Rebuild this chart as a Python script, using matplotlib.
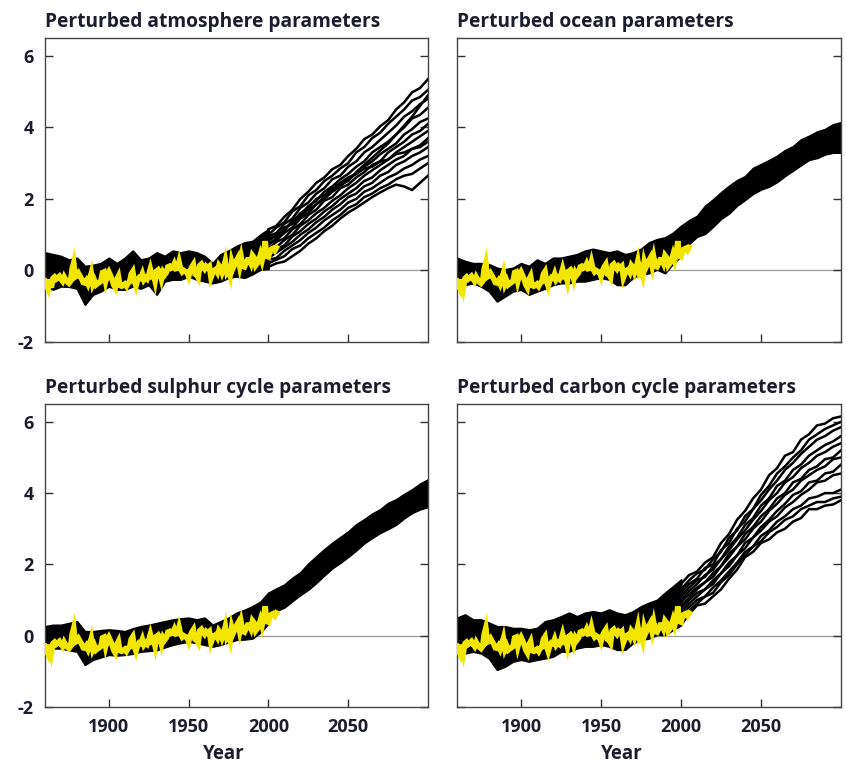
import matplotlib
matplotlib.use("Agg")
import matplotlib.pyplot as plt
import numpy as np

plt.rcParams['font.family'] = ['Open Sans', 'DejaVu Sans']
plt.rcParams['font.weight'] = 'bold'
plt.rcParams['axes.unicode_minus'] = False

# ---- data -------------------------------------------------------------
titles = ["Perturbed atmosphere parameters", "Perturbed ocean parameters",
          "Perturbed sulphur cycle parameters", "Perturbed carbon cycle parameters"]
xticks = [1900, 1950, 2000, 2050]
yticks = [-2, 0, 2, 4, 6]

hist_years = np.arange(1860, 2001, 5)      # 1860..2000
fut_years = np.arange(2000, 2101, 5)       # 2000..2100
obs_years = np.arange(1860, 2006)          # observed record

# observed temperature anomaly (yellow)
obs = [-0.30, -0.42, -0.52, -0.25, -0.48, -0.22, -0.18, -0.24, -0.20, -0.16,
       -0.24, -0.30, -0.18, -0.26, -0.32, -0.36, -0.30, 0.05, 0.22, -0.18,
       -0.15, -0.08, -0.16, -0.24, -0.34, -0.35, -0.28, -0.38, -0.25, -0.08,
       -0.38, -0.28, -0.40, -0.36, -0.34, -0.30, -0.06, -0.04, -0.30, -0.12,
       -0.04, -0.14, -0.25, -0.40, -0.48, -0.25, -0.16, -0.42, -0.44, -0.42,
       -0.38, -0.44, -0.35, -0.32, -0.10, -0.03, -0.30, -0.44, -0.28, -0.20,
       -0.22, -0.10, -0.26, -0.20, -0.24, -0.12, 0.04, -0.14, -0.10, -0.30,
       -0.02, 0.02, -0.05, -0.24, -0.05, -0.12, -0.06, 0.10, 0.12, 0.06,
       0.08, 0.18, 0.05, 0.06, 0.24, 0.04, -0.04, 0.00, -0.03, -0.05,
       -0.17, 0.00, 0.10, 0.17, -0.10, -0.12, -0.20, 0.14, 0.18, 0.10,
       0.04, 0.12, 0.08, 0.12, -0.20, -0.08, 0.00, 0.03, -0.05, 0.14,
       0.08, -0.06, 0.06, 0.26, -0.05, 0.02, -0.14, 0.24, 0.08, 0.18,
       0.28, 0.36, 0.12, 0.36, 0.12, 0.10, 0.20, 0.30, 0.30, 0.20,
       0.42, 0.36, 0.14, 0.20, 0.28, 0.44, 0.28, 0.48, 0.82, 0.40,
       0.38, 0.54, 0.60, 0.62, 0.56, 0.64]

# historical ensemble spread (upper / lower edge) for each panel, 1860..2000
atm_hist_hi = [0.50, 0.45, 0.40, 0.30, 0.35, 0.12, 0.15, 0.20, 0.35, 0.20, 0.35, 0.55, 0.30, 0.35, 0.50,
               0.40, 0.55, 0.50, 0.55, 0.50, 0.40, 0.20, 0.45, 0.55, 0.68, 0.78, 0.82, 1.00, 1.15]
atm_hist_lo = [-0.44, -0.53, -0.44, -0.45, -0.50, -0.95, -0.67, -0.58, -0.44, -0.53, -0.53, -0.44, -0.50, -0.40, -0.67,
               -0.30, -0.25, -0.25, -0.16, -0.25, -0.30, -0.35, -0.30, -0.20, -0.16, -0.20, -0.10, 0.03, 0.05]
ocn_hist_hi = [0.35, 0.26, 0.20, 0.20, 0.17, 0.07, 0.03, 0.07, 0.20, 0.12, 0.30, 0.20, 0.35, 0.35, 0.40,
               0.45, 0.55, 0.60, 0.55, 0.50, 0.55, 0.45, 0.50, 0.60, 0.78, 0.87, 0.92, 1.05, 1.24]
ocn_hist_lo = [-0.44, -0.40, -0.35, -0.44, -0.58, -0.86, -0.72, -0.58, -0.53, -0.67, -0.58, -0.50, -0.40, -0.35, -0.35,
               -0.30, -0.30, -0.25, -0.20, -0.25, -0.40, -0.40, -0.20, -0.10, -0.07, 0.03, -0.07, 0.20, 0.40]
sul_hist_hi = [0.26, 0.30, 0.30, 0.35, 0.40, 0.12, 0.12, 0.15, 0.17, 0.15, 0.12, 0.20, 0.26, 0.30, 0.35,
               0.40, 0.45, 0.48, 0.50, 0.45, 0.50, 0.30, 0.40, 0.50, 0.64, 0.72, 0.82, 0.95, 1.20]
sul_hist_lo = [-0.35, -0.35, -0.35, -0.40, -0.44, -0.81, -0.67, -0.60, -0.53, -0.55, -0.53, -0.50, -0.44, -0.42, -0.40,
               -0.32, -0.25, -0.20, -0.16, -0.20, -0.25, -0.30, -0.25, -0.18, -0.11, -0.10, -0.07, 0.10, 0.35]
crb_hist_hi = [0.50, 0.59, 0.45, 0.45, 0.36, 0.26, 0.26, 0.21, 0.21, 0.17, 0.21, 0.40, 0.45, 0.54, 0.64,
               0.54, 0.64, 0.68, 0.64, 0.73, 0.64, 0.59, 0.68, 0.82, 0.92, 1.00, 1.20, 1.38, 1.57]
crb_hist_lo = [-0.44, -0.49, -0.44, -0.49, -0.63, -0.95, -0.86, -0.72, -0.67, -0.72, -0.67, -0.63, -0.58, -0.44, -0.44,
               -0.35, -0.30, -0.30, -0.25, -0.30, -0.39, -0.39, -0.20, -0.11, -0.07, 0.03, 0.03, 0.17, 0.30]

# future spread for the narrow ensembles, 2000..2100
ocn_fut_hi = [1.24, 1.40, 1.52, 1.80, 1.98, 2.18, 2.36, 2.52, 2.63, 2.86, 2.97,
              3.08, 3.20, 3.36, 3.47, 3.66, 3.76, 3.88, 3.95, 4.08, 4.14]
ocn_fut_lo = [0.59, 0.75, 0.95, 1.03, 1.23, 1.45, 1.60, 1.82, 1.98, 2.15, 2.27,
              2.35, 2.48, 2.65, 2.80, 2.95, 3.10, 3.15, 3.25, 3.30, 3.30]
sul_fut_hi = [1.20, 1.32, 1.43, 1.62, 1.77, 2.02, 2.22, 2.42, 2.60, 2.76, 2.92,
              3.12, 3.26, 3.42, 3.54, 3.72, 3.82, 3.97, 4.10, 4.26, 4.38]
sul_fut_lo = [0.62, 0.70, 0.80, 0.98, 1.15, 1.30, 1.49, 1.70, 1.90, 2.05, 2.22,
              2.40, 2.60, 2.75, 2.89, 3.00, 3.12, 3.30, 3.45, 3.55, 3.62]

# individual runs for the wide ensembles, 2000..2100
atm_runs = [
    [1.15, 1.25, 1.50, 1.70, 2.00, 2.20, 2.45, 2.60, 2.83, 2.95, 3.20, 3.40, 3.67, 3.80, 4.03, 4.20, 4.50, 4.70, 4.98, 5.10, 5.35],
    [1.00, 1.20, 1.35, 1.65, 1.80, 2.10, 2.25, 2.50, 2.65, 2.85, 3.00, 3.30, 3.45, 3.70, 3.85, 4.10, 4.30, 4.50, 4.75, 4.85, 5.05],
    [0.95, 1.05, 1.30, 1.45, 1.75, 1.90, 2.15, 2.30, 2.55, 2.65, 2.90, 3.05, 3.30, 3.45, 3.65, 3.85, 4.05, 4.30, 4.45, 4.65, 4.80],
    [0.80, 1.00, 1.10, 1.40, 1.55, 1.80, 1.95, 2.20, 2.35, 2.55, 2.70, 2.90, 3.05, 3.30, 3.45, 3.60, 3.80, 4.00, 4.25, 4.35, 4.55],
    [0.75, 0.85, 1.05, 1.20, 1.45, 1.60, 1.85, 2.00, 2.20, 2.35, 2.55, 2.70, 2.90, 3.05, 3.25, 3.40, 3.55, 3.80, 3.95, 4.15, 4.25],
    [0.60, 0.80, 0.90, 1.15, 1.30, 1.55, 1.70, 1.95, 2.05, 2.30, 2.40, 2.60, 2.75, 2.95, 3.05, 3.30, 3.45, 3.60, 3.80, 3.90, 4.10],
    [0.55, 0.65, 0.85, 1.00, 1.25, 1.40, 1.60, 1.75, 1.95, 2.10, 2.30, 2.45, 2.65, 2.80, 2.95, 3.10, 3.30, 3.45, 3.60, 3.75, 3.90],
    [0.45, 0.60, 0.70, 0.95, 1.10, 1.30, 1.45, 1.65, 1.80, 2.00, 2.15, 2.30, 2.50, 2.60, 2.80, 2.95, 3.10, 3.20, 3.40, 3.50, 3.70],
    [0.35, 0.50, 0.65, 0.80, 1.00, 1.15, 1.35, 1.50, 1.70, 1.85, 2.05, 2.15, 2.35, 2.45, 2.65, 2.75, 2.95, 3.05, 3.20, 3.30, 3.45],
    [0.30, 0.35, 0.55, 0.70, 0.85, 1.05, 1.20, 1.40, 1.55, 1.70, 1.90, 2.00, 2.20, 2.30, 2.45, 2.60, 2.70, 2.85, 2.95, 3.10, 3.20],
    [0.20, 0.30, 0.40, 0.60, 0.70, 0.90, 1.05, 1.20, 1.40, 1.55, 1.75, 1.85, 2.05, 2.15, 2.30, 2.40, 2.55, 2.65, 2.70, 2.85, 3.00],
    [0.10, 0.20, 0.25, 0.40, 0.55, 0.75, 0.90, 1.10, 1.25, 1.45, 1.62, 1.75, 1.90, 2.05, 2.18, 2.30, 2.40, 2.35, 2.25, 2.45, 2.65],
    [0.90, 0.95, 1.20, 1.30, 1.50, 1.70, 1.85, 2.05, 2.25, 2.40, 2.50, 2.75, 2.95, 3.15, 3.35, 3.55, 3.80, 4.05, 4.30, 4.60, 4.90],
    [0.70, 0.90, 1.15, 1.35, 1.60, 1.75, 2.00, 2.10, 2.30, 2.45, 2.60, 2.70, 2.85, 2.90, 3.05, 3.10, 3.25, 3.30, 3.40, 3.45, 3.60],
]
crb_runs = [
    [1.45, 1.70, 1.80, 2.05, 2.20, 2.60, 2.85, 3.25, 3.50, 3.85, 4.10, 4.50, 4.70, 5.05, 5.15, 5.50, 5.65, 5.90, 5.95, 6.10, 6.15],
    [1.30, 1.55, 1.75, 1.85, 2.15, 2.35, 2.75, 2.95, 3.35, 3.55, 3.95, 4.20, 4.55, 4.75, 5.00, 5.20, 5.50, 5.65, 5.80, 5.90, 6.00],
    [1.20, 1.45, 1.60, 1.90, 2.00, 2.40, 2.60, 3.00, 3.20, 3.55, 3.80, 4.10, 4.35, 4.65, 4.85, 5.10, 5.30, 5.50, 5.60, 5.75, 5.85],
    [1.10, 1.35, 1.55, 1.65, 1.95, 2.15, 2.50, 2.75, 3.10, 3.30, 3.65, 3.85, 4.20, 4.35, 4.65, 4.80, 5.05, 5.20, 5.35, 5.45, 5.60],
    [1.00, 1.25, 1.45, 1.70, 1.85, 2.15, 2.40, 2.70, 2.95, 3.25, 3.50, 3.80, 4.00, 4.30, 4.45, 4.70, 4.85, 5.05, 5.15, 5.30, 5.40],
    [0.95, 1.15, 1.35, 1.50, 1.75, 1.95, 2.30, 2.50, 2.85, 3.05, 3.35, 3.55, 3.85, 4.00, 4.30, 4.40, 4.65, 4.75, 4.95, 5.00, 5.20],
    [0.85, 1.05, 1.30, 1.50, 1.65, 1.95, 2.20, 2.50, 2.70, 3.00, 3.20, 3.50, 3.70, 3.95, 4.10, 4.35, 4.50, 4.65, 4.75, 4.95, 5.00],
    [0.75, 1.00, 1.20, 1.30, 1.55, 1.75, 2.05, 2.25, 2.60, 2.75, 3.05, 3.25, 3.50, 3.70, 3.95, 4.05, 4.30, 4.35, 4.55, 4.60, 4.80],
    [0.65, 0.90, 1.10, 1.30, 1.45, 1.75, 1.95, 2.25, 2.45, 2.75, 2.95, 3.20, 3.35, 3.60, 3.75, 3.95, 4.10, 4.30, 4.35, 4.50, 4.55],
    [0.55, 0.80, 1.00, 1.10, 1.35, 1.55, 1.80, 2.05, 2.35, 2.50, 2.80, 2.95, 3.20, 3.35, 3.55, 3.65, 3.85, 3.90, 4.00, 4.00, 4.10],
    [0.40, 0.70, 0.90, 1.10, 1.20, 1.50, 1.70, 2.00, 2.25, 2.50, 2.65, 2.90, 3.05, 3.25, 3.35, 3.55, 3.65, 3.75, 3.75, 3.85, 3.90],
    [0.30, 0.60, 0.85, 0.90, 1.10, 1.30, 1.60, 1.85, 2.20, 2.35, 2.60, 2.70, 2.90, 3.00, 3.20, 3.30, 3.55, 3.55, 3.65, 3.68, 3.80],
]

# ---- drawing ------------------------------------------------------------
txt = '#1c1c2c'
ink = 'black'
yellow = '#f2e600'

fig = plt.figure(figsize=(8.46, 7.64), dpi=100)
boxes = [[45/846, 1-342/764, 383/846, 304/764],
         [457/846, 1-342/764, 384/846, 304/764],
         [45/846, 1-707/764, 383/846, 303/764],
         [457/846, 1-707/764, 384/846, 303/764]]
hist_sets = [(atm_hist_lo, atm_hist_hi), (ocn_hist_lo, ocn_hist_hi),
             (sul_hist_lo, sul_hist_hi), (crb_hist_lo, crb_hist_hi)]
fut_sets = [atm_runs, (ocn_fut_lo, ocn_fut_hi), (sul_fut_lo, sul_fut_hi), crb_runs]

for i in range(4):
    ax = fig.add_axes(boxes[i])
    ax.axhline(0, color='#9a9a9a', lw=0.9, zorder=0)

    lo, hi = hist_sets[i]
    ax.fill_between(hist_years, lo, hi, color=ink, lw=1.5, edgecolor=ink, zorder=2)
    fut = fut_sets[i]
    if isinstance(fut, tuple):
        ax.fill_between(fut_years, fut[0], fut[1], color=ink, lw=1.5, edgecolor=ink, zorder=2)
    else:
        for run in fut:
            ax.plot(fut_years, run, color=ink, lw=1.8, zorder=2, solid_joinstyle='miter')

    ax.plot(obs_years, obs, color=yellow, lw=4.0, zorder=3, solid_joinstyle='miter')

    ax.set_xlim(1860, 2100)
    ax.set_ylim(-2, 6.5)
    ax.set_xticks(xticks)
    ax.set_yticks(yticks)
    ax.tick_params(direction='in', length=6, width=1, color='#333333',
                   right=True, top=False, labelsize=13, labelcolor=txt, pad=8)
    for s in ax.spines.values():
        s.set_color('#444444')
        s.set_linewidth(1.0)
    if i % 2 == 1:
        ax.set_yticklabels([])
    if i < 2:
        ax.set_xticklabels([])
    else:
        ax.set_xlabel("Year", fontsize=13.5, fontweight='bold', color=txt)
        ax.xaxis.set_label_coords(0.467 if i == 2 else 0.43, -0.122)
    ax.set_title(titles[i], loc='left', fontsize=13.8, fontweight='bold', color=txt, pad=8)

fig.savefig("out.png", dpi=100)
